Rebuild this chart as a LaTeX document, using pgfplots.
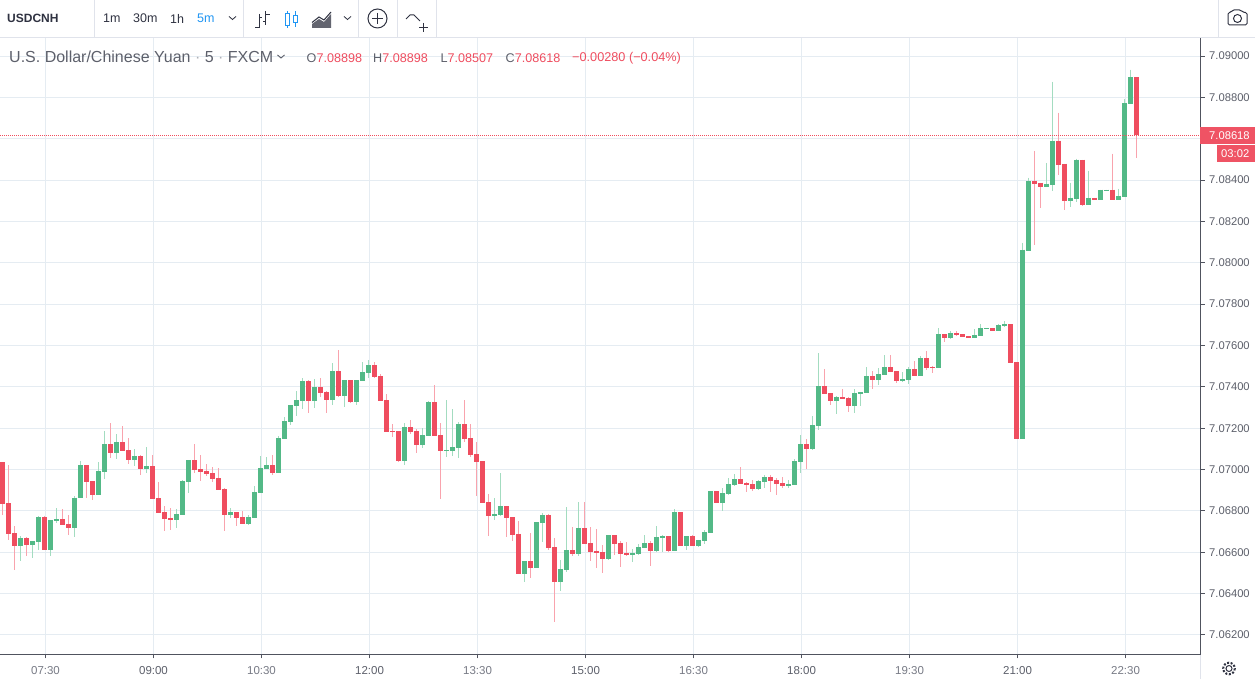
\documentclass[border=0pt]{standalone}
\usepackage{pgfplots}
\usepackage{pgfplotstable}
\usepackage{fontspec}
\setmainfont{Liberation Sans}
\pgfplotsset{compat=1.18}
\definecolor{grn}{HTML}{53B987}
\definecolor{red1}{HTML}{EF4D5F}
\definecolor{grnw}{HTML}{A3DCC0}
\definecolor{redw}{HTML}{F9A3AD}
\definecolor{gridc}{HTML}{E5ECF2}
\definecolor{axisc}{HTML}{50535E}
\definecolor{lab}{HTML}{5D606B}
\definecolor{labl}{HTML}{787B86}
\definecolor{sep}{HTML}{E0E3EB}
\definecolor{ink}{HTML}{2F3241}
\definecolor{blu}{HTML}{2196F3}
\definecolor{lastc}{HTML}{EF5364}
\pgfplotstableread{
i high top bot low
3 7.06678 7.06668 7.06630 7.06557
5 7.06654 7.06654 7.06634 7.06572
6 7.06775 7.06770 7.06649 7.06610
8 7.06755 7.06755 7.06610 7.06581
9 7.06813 7.06760 7.06750 7.06741
12 7.06871 7.06864 7.06717 7.06673
13 7.07040 7.07021 7.06862 7.06862
16 7.07035 7.06992 7.06876 7.06876
17 7.07185 7.07122 7.06987 7.06953
19 7.07171 7.07132 7.07079 7.07050
22 7.07098 7.07064 7.07045 7.07016
24 7.07108 7.07016 7.07002 7.06982
29 7.06808 7.06784 7.06755 7.06717
30 7.06948 7.06944 7.06779 7.06779
31 7.07045 7.07045 7.06939 7.06886
38 7.06813 7.06794 7.06779 7.06765
41 7.06779 7.06770 7.06736 7.06731
42 7.06919 7.06890 7.06765 7.06765
43 7.07064 7.07006 7.06886 7.06886
44 7.07060 7.07021 7.07002 7.07002
46 7.07161 7.07151 7.06982 7.06982
47 7.07253 7.07234 7.07147 7.07147
48 7.07311 7.07311 7.07229 7.07214
49 7.07378 7.07335 7.07306 7.07258
50 7.07441 7.07427 7.07330 7.07291
52 7.07436 7.07398 7.07330 7.07296
55 7.07514 7.07475 7.07335 7.07311
57 7.07432 7.07432 7.07354 7.07301
59 7.07432 7.07432 7.07325 7.07311
60 7.07518 7.07470 7.07427 7.07427
61 7.07528 7.07504 7.07465 7.07441
67 7.07224 7.07205 7.07040 7.07021
70 7.07200 7.07166 7.07118 7.07103
71 7.07330 7.07325 7.07161 7.07161
74 7.07335 7.07093 7.07089 7.07060
75 7.07291 7.07108 7.07089 7.07064
76 7.07229 7.07219 7.07103 7.07055
82 7.06862 7.06784 7.06775 7.06755
83 7.06982 7.06823 7.06779 7.06775
87 7.06557 7.06557 7.06494 7.06456
89 7.06746 7.06746 7.06523 7.06523
90 7.06789 7.06779 7.06741 7.06649
93 7.06562 7.06519 7.06456 7.06412
94 7.06818 7.06610 7.06514 7.06504
96 7.06842 7.06717 7.06591 7.06581
101 7.06683 7.06683 7.06567 7.06562
105 7.06615 7.06596 7.06586 7.06552
106 7.06639 7.06625 7.06591 7.06586
107 7.06683 7.06644 7.06620 7.06620
109 7.06726 7.06673 7.06606 7.06601
110 7.06683 7.06678 7.06668 7.06601
112 7.06808 7.06794 7.06606 7.06606
114 7.06678 7.06678 7.06630 7.06610
116 7.06659 7.06659 7.06630 7.06625
117 7.06707 7.06697 7.06654 7.06639
118 7.06895 7.06895 7.06692 7.06692
120 7.06910 7.06886 7.06837 7.06799
121 7.06958 7.06929 7.06881 7.06876
122 7.06977 7.06953 7.06924 7.06919
126 7.06948 7.06944 7.06905 7.06900
127 7.06973 7.06963 7.06939 7.06910
131 7.06948 7.06929 7.06919 7.06910
132 7.07050 7.07040 7.06924 7.06924
133 7.07166 7.07122 7.07035 7.06982
135 7.07258 7.07214 7.07098 7.07093
136 7.07562 7.07402 7.07209 7.07190
139 7.07354 7.07349 7.07330 7.07267
142 7.07388 7.07369 7.07306 7.07272
143 7.07374 7.07374 7.07364 7.07306
144 7.07494 7.07451 7.07369 7.07369
146 7.07490 7.07461 7.07432 7.07407
147 7.07552 7.07494 7.07456 7.07456
150 7.07470 7.07436 7.07427 7.07422
151 7.07494 7.07485 7.07432 7.07412
153 7.07547 7.07538 7.07451 7.07451
156 7.07683 7.07654 7.07490 7.07490
158 7.07668 7.07659 7.07634 7.07630
162 7.07678 7.07649 7.07634 7.07634
163 7.07702 7.07683 7.07644 7.07644
164 7.07683 7.07683 7.07678 7.07678
166 7.07702 7.07697 7.07668 7.07668
167 7.07717 7.07702 7.07692 7.07687
170 7.08098 7.08064 7.07147 7.07147
171 7.08412 7.08398 7.08059 7.08059
174 7.08484 7.08383 7.08369 7.08369
175 7.08876 7.08591 7.08378 7.08349
178 7.08388 7.08315 7.08301 7.08272
179 7.08504 7.08499 7.08311 7.08296
181 7.08446 7.08315 7.08282 7.08282
183 7.08354 7.08354 7.08306 7.08306
184 7.08354 7.08354 7.08349 7.08349
186 7.08359 7.08325 7.08306 7.08306
187 7.08794 7.08774 7.08320 7.08320
188 7.08934 7.08898 7.08769 7.08769
}\greentable
\pgfplotstableread{
i high top bot low
0 7.07035 7.07035 7.06834 7.06779
1 7.07021 7.06837 7.06688 7.06659
2 7.06726 7.06692 7.06630 7.06514
4 7.06673 7.06668 7.06634 7.06581
7 7.06775 7.06770 7.06610 7.06610
10 7.06808 7.06760 7.06731 7.06731
11 7.06779 7.06736 7.06717 7.06683
14 7.07021 7.07021 7.06939 7.06862
15 7.06944 7.06944 7.06876 7.06852
18 7.07224 7.07122 7.07079 7.07055
20 7.07209 7.07132 7.07089 7.07089
21 7.07151 7.07093 7.07045 7.07026
23 7.07069 7.07064 7.07002 7.06973
25 7.07069 7.07016 7.06857 7.06857
26 7.06939 7.06862 7.06789 7.06789
27 7.06823 7.06794 7.06760 7.06702
28 7.06813 7.06765 7.06755 7.06707
32 7.07122 7.07045 7.06997 7.06982
33 7.07069 7.07002 7.06987 7.06944
34 7.07026 7.06992 7.06977 7.06968
35 7.07011 7.06982 7.06953 7.06939
36 7.07006 7.06958 7.06900 7.06900
37 7.06910 7.06905 7.06779 7.06702
39 7.06794 7.06794 7.06765 7.06726
40 7.06799 7.06770 7.06736 7.06736
45 7.07069 7.07021 7.06982 7.06973
51 7.07432 7.07427 7.07330 7.07272
53 7.07441 7.07398 7.07369 7.07349
54 7.07378 7.07374 7.07335 7.07272
56 7.07576 7.07475 7.07354 7.07349
58 7.07432 7.07432 7.07325 7.07320
62 7.07518 7.07504 7.07446 7.07441
63 7.07461 7.07451 7.07330 7.07330
64 7.07364 7.07335 7.07180 7.07180
65 7.07219 7.07185 7.07180 7.07156
66 7.07185 7.07185 7.07040 7.07035
68 7.07238 7.07205 7.07180 7.07171
69 7.07195 7.07185 7.07118 7.07079
72 7.07407 7.07325 7.07161 7.07161
73 7.07224 7.07166 7.07089 7.06857
77 7.07335 7.07219 7.07147 7.07132
78 7.07219 7.07151 7.07069 7.07060
79 7.07132 7.07074 7.07035 7.06871
80 7.07040 7.07040 7.06837 7.06837
81 7.06881 7.06842 7.06775 7.06678
84 7.06823 7.06823 7.06765 7.06673
85 7.06770 7.06770 7.06683 7.06654
86 7.06750 7.06688 7.06494 7.06494
88 7.06692 7.06557 7.06523 7.06475
91 7.06784 7.06779 7.06620 7.06610
92 7.06668 7.06625 7.06456 7.06263
95 7.06721 7.06610 7.06591 7.06581
97 7.06842 7.06717 7.06639 7.06639
98 7.06721 7.06644 7.06601 7.06557
99 7.06712 7.06606 7.06596 7.06523
100 7.06634 7.06601 7.06567 7.06499
102 7.06683 7.06683 7.06639 7.06586
103 7.06654 7.06644 7.06591 7.06528
104 7.06649 7.06596 7.06586 7.06581
108 7.06654 7.06644 7.06606 7.06533
111 7.06678 7.06678 7.06606 7.06601
113 7.06794 7.06794 7.06630 7.06630
115 7.06683 7.06678 7.06630 7.06630
119 7.06895 7.06895 7.06837 7.06837
123 7.07011 7.06953 7.06929 7.06929
124 7.06939 7.06934 7.06924 7.06890
125 7.06948 7.06929 7.06905 7.06895
128 7.06973 7.06963 7.06944 7.06890
129 7.06958 7.06948 7.06929 7.06876
130 7.06963 7.06934 7.06919 7.06910
134 7.07147 7.07122 7.07098 7.07002
137 7.07485 7.07402 7.07364 7.07364
138 7.07369 7.07369 7.07330 7.07311
140 7.07388 7.07349 7.07340 7.07340
141 7.07349 7.07345 7.07306 7.07277
145 7.07475 7.07451 7.07432 7.07388
148 7.07552 7.07494 7.07470 7.07470
149 7.07475 7.07475 7.07427 7.07417
152 7.07523 7.07485 7.07451 7.07451
154 7.07572 7.07538 7.07490 7.07480
155 7.07499 7.07494 7.07490 7.07465
157 7.07654 7.07654 7.07634 7.07615
159 7.07668 7.07659 7.07649 7.07644
160 7.07654 7.07654 7.07639 7.07639
161 7.07644 7.07644 7.07634 7.07634
165 7.07683 7.07683 7.07668 7.07668
168 7.07702 7.07702 7.07514 7.07514
169 7.07518 7.07518 7.07147 7.07147
172 7.08542 7.08398 7.08383 7.08088
173 7.08388 7.08388 7.08369 7.08267
176 7.08726 7.08591 7.08475 7.08427
177 7.08480 7.08480 7.08301 7.08257
180 7.08499 7.08499 7.08282 7.08277
182 7.08315 7.08315 7.08306 7.08306
185 7.08528 7.08354 7.08306 7.08306
189 7.08898 7.08898 7.08618 7.08507
}\redtable
\newcommand{\wicks}[2]{\addplot[draw=none,mark=none,forget plot,
  error bars/.cd,y dir=both,y explicit,error mark=none,
  error bar style={line width=1pt,color=#2}]
  table[x=i,y=high,y error plus expr=0,y error minus expr=\thisrow{high}-\thisrow{low}]{#1};}
\newcommand{\bodies}[2]{\addplot[draw=none,mark=none,forget plot,
  error bars/.cd,y dir=both,y explicit,error mark=none,
  error bar style={line width=5pt,color=#2}]
  table[x=i,y=top,y error plus expr=0,y error minus expr=\thisrow{top}-\thisrow{bot}]{#1};}
\begin{document}
\begin{tikzpicture}[x=1pt,y=1pt]
\path[use as bounding box,fill=white] (0,0) rectangle (1255,679);
\begin{axis}[
  at={(0pt,24.5pt)},anchor=south west,
  scale only axis,width=1200.5pt,height=616.5pt,
  xmin=-0.4167,xmax=199.667,ymin=7.06105,ymax=7.090876,
  axis x line*=bottom,axis y line*=right,
  axis line style={draw=axisc,line width=1pt},
  grid=major,grid style={color=gridc,line width=1pt},
  tick align=outside,major tick length=4pt,
  tick style={color=axisc,line width=1pt},
  xtick={7.167,25.167,43.167,61.167,79.167,97.167,115.167,133.167,151.167,169.167,187.167},
  xticklabels={\textcolor{labl}{07:30},\textcolor{lab}{09:00},\textcolor{labl}{10:30},\textcolor{lab}{12:00},\textcolor{labl}{13:30},\textcolor{lab}{15:00},\textcolor{labl}{16:30},\textcolor{lab}{18:00},\textcolor{labl}{19:30},\textcolor{lab}{21:00},\textcolor{labl}{22:30}},
  ytick={7.062,7.064,7.066,7.068,7.07,7.072,7.074,7.076,7.078,7.08,7.082,7.084,7.086,7.088,7.09},
  yticklabels={7.06200,7.06400,7.06600,7.06800,7.07000,7.07200,7.07400,7.07600,7.07800,7.08000,7.08200,7.08400,,7.08800,7.09000},
  ticklabel style={font=\fontsize{11.5}{13}\selectfont,text=lab},
  xticklabel style={inner sep=0pt,yshift=-7.5pt},
  yticklabel style={inner sep=0pt,xshift=4.5pt,font=\fontsize{11.2}{13}\selectfont},
]
\wicks{\greentable}{grnw}
\wicks{\redtable}{redw}
\bodies{\greentable}{grn}
\bodies{\redtable}{red1}
\addplot[forget plot,color=red1,line width=1pt,dash pattern=on 1pt off 1pt] coordinates {(-0.4167,7.08618)(199.667,7.08618)};
\end{axis}
\begin{scope}[shift={(0pt,679pt)},y=-1pt]
  % separators
  \draw[sep,line width=1pt] (0,37.5)--(1255,37.5);
  \foreach \xx in {94.5,243.5,358.5,397.5,436.5,1218.5} \draw[sep,line width=1pt] (\xx,0)--(\xx,37);
  \draw[sep,line width=1pt] (1200.5,655)--(1200.5,679);
  % toolbar text
  \node[anchor=west,inner sep=0pt,font=\bfseries\fontsize{12}{14}\selectfont,text=ink] at (7,18.5) {USDCNH};
  \node[anchor=west,inner sep=0pt,font=\fontsize{12.5}{14}\selectfont,text=ink] at (103,18.5) {1m};
  \node[anchor=west,inner sep=0pt,font=\fontsize{12.5}{14}\selectfont,text=ink] at (133,18.5) {30m};
  \node[anchor=west,inner sep=0pt,font=\fontsize{12.5}{14}\selectfont,text=ink] at (170,18.5) {1h};
  \node[anchor=west,inner sep=0pt,font=\fontsize{12.5}{14}\selectfont,text=blu] at (197,18.5) {5m};
  % chevrons
  \draw[ink,line width=0.8pt] (229,16.5)--(232.5,19.5)--(236,16.5);
  \draw[ink,line width=0.8pt] (344,16.5)--(347.5,19.5)--(351,16.5);
  % bar icon
  \draw[ink,line width=1pt] (259.5,14)--(259.5,28) (255,27.5)--(259.5,27.5) (259.5,17.5)--(262,17.5);
  \draw[ink,line width=1pt] (265.5,11)--(265.5,25) (265.5,14.5)--(270,14.5) (263,21.5)--(265.5,21.5);
  % candle icon
  \draw[blu,line width=1pt] (287.5,11)--(287.5,13) (287.5,25)--(287.5,28);
  \draw[blu,line width=1pt] (285.5,13.5) rectangle (289.5,25.5);
  \draw[blu,line width=1pt] (295.5,11)--(295.5,15) (295.5,23)--(295.5,27);
  \draw[blu,line width=1pt] (293.5,15.5) rectangle (297.5,22.5);
  % area icon
  \fill[ink,opacity=0.75] (312,28)--(312,24)--(319,19)--(324,22)--(331,14)--(331,28)--cycle;
  \draw[ink,line width=1pt] (312,22.5)--(319,17)--(324,20)--(331,12);
  % add circle
  \draw[ink,line width=1pt] (377.5,18.5) circle (9.5);
  \draw[ink,line width=1pt] (372,18.5)--(383,18.5) (377.5,13)--(377.5,24);
  % compare icon
  \draw[ink,line width=1pt] (406,19)--(410,15)--(414,15)--(420,21);
  \draw[ink,line width=1pt] (419,27.5)--(428,27.5) (423.5,23)--(423.5,32);
  % camera
  \draw[ink,line width=1pt,rounded corners=1.5pt] (1228,12.5)--(1231,12.5)--(1232.5,10)--(1241,10)--(1243,12.5)--(1247,12.5)--(1247,25)--(1228,25)--cycle;
  \draw[ink,line width=1pt] (1237.5,18.5) circle (4);
  % legend
  \node[anchor=west,inner sep=0pt,font=\fontsize{16}{18}\selectfont,text=lab] at (9,57) {U.S. Dollar/Chinese Yuan \textcolor{labl!60}{·} 5 \textcolor{labl!60}{·} FXCM};
  \draw[lab,line width=0.9pt] (277.5,55)--(281,58)--(284.5,55);
  \def\ohlc#1#2#3{\node[anchor=west,inner sep=0pt,font=\fontsize{12.6}{14}\selectfont] at (#1,58) {\textcolor{lab}{#2}\textcolor{red1}{#3}};}
  \ohlc{306.5}{O}{7.08898}
  \ohlc{373}{H}{7.08898}
  \ohlc{440.5}{L}{7.08507}
  \ohlc{505.5}{C}{7.08618}
  \node[anchor=west,inner sep=0pt,font=\fontsize{12.7}{14}\selectfont,text=red1] at (572,58) {−0.00280 (−0.04\%)};
  % last price labels
  \fill[lastc] (1200,127) rectangle (1255,144);
  \node[anchor=west,inner sep=0pt,font=\fontsize{11.2}{13}\selectfont,text=white] at (1209,135.5) {7.08618};
  \fill[lastc] (1217,145) rectangle (1255,162);
  \node[anchor=west,inner sep=0pt,font=\fontsize{11.2}{13}\selectfont,text=white] at (1221,153.5) {03:02};
  % gear
  \draw[ink,line width=2pt,dash pattern=on 2pt off 1.6pt] (1229,668.5) circle (5.8);
  \draw[ink,line width=1pt] (1229,668.5) circle (3);
\end{scope}
\end{tikzpicture}
\end{document}
